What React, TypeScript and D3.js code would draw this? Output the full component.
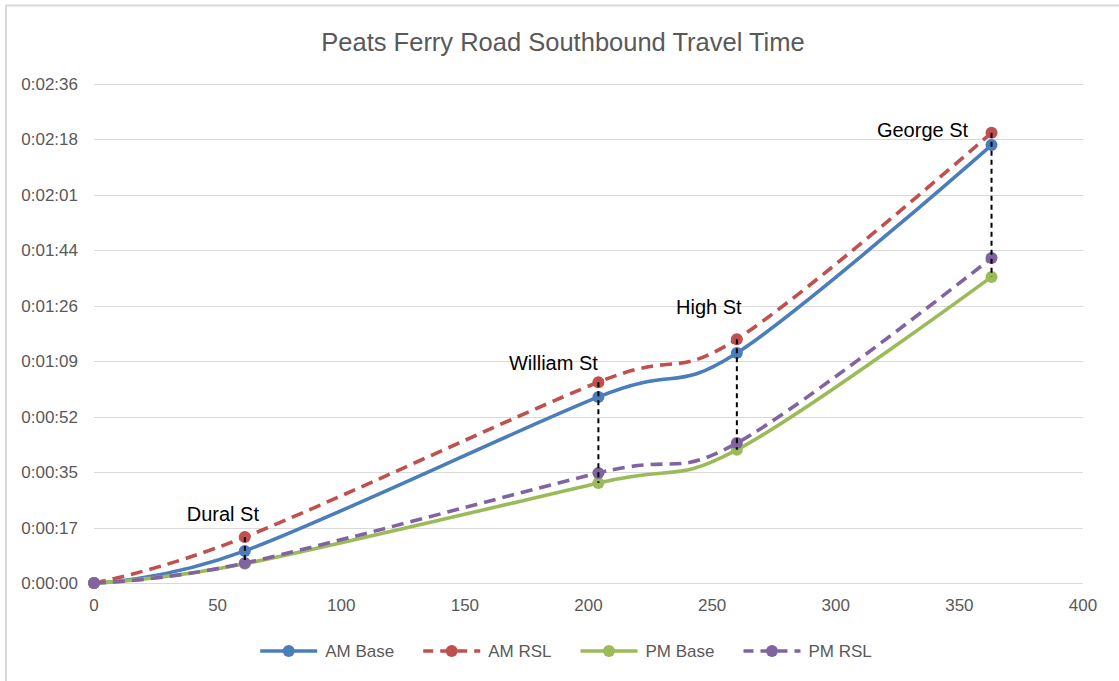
import React, { useEffect, useRef } from "react";
import * as d3 from "d3";

// ---- data ----
const distances = [0, 61, 204, 260, 363];
const amBase = [0, 10.0, 58.0, 71.7, 136.5];
const amRsl = [0, 14.3, 62.6, 76.0, 140.3];
const pmBase = [0, 6.0, 31.2, 41.5, 95.4];
const pmRsl = [0, 6.2, 34.3, 43.6, 101.3];
const streetLabels = ["", "Dural St", "William St", "High St", "George St"];
const xTicks = [0, 50, 100, 150, 200, 250, 300, 350, 400];
const yTickLabels = ["0:00:00", "0:00:17", "0:00:35", "0:00:52", "0:01:09", "0:01:26", "0:01:44", "0:02:01", "0:02:18", "0:02:36"];
const yStep = 17.28; // seconds (0.0002 day)
const seriesNames = ["AM Base", "AM RSL", "PM Base", "PM RSL"];

// ---- styles ----
const colors = ["#4a7ebb", "#c0504d", "#9bbb59", "#8064a2"];
const dashes = [null, "12,7", null, "12,7"];
const labelOffsets = [[0, 0], [-22, -23], [-45, -19], [-28, -32], [-69, -3]];
const FONT = "'Liberation Sans', Arial, sans-serif";

export default function App() {
  const ref = useRef<SVGSVGElement>(null);
  useEffect(() => {
    const svg = d3.select(ref.current);
    svg.selectAll("*").remove();
    const W = 1119, H = 681;
    const m = { left: 94, right: 1083, top: 84, bottom: 583 };
    const x = d3.scaleLinear().domain([0, 400]).range([m.left, m.right]);
    const y = d3.scaleLinear().domain([0, yStep * 9]).range([m.bottom, m.top]);

    svg.append("rect").attr("width", W).attr("height", H).attr("fill", "#fff");
    svg.append("rect").attr("x", 6).attr("y", 5.5).attr("width", 1300).attr("height", 900)
      .attr("fill", "none").attr("stroke", "#d9d9d9").attr("stroke-width", 2);

    // title
    svg.append("text").attr("x", 563).attr("y", 42).attr("dy", "0.35em")
      .attr("text-anchor", "middle").attr("font-family", FONT).attr("font-size", 25.5)
      .attr("fill", "#595959").text("Peats Ferry Road Southbound Travel Time");

    // gridlines + y labels
    const yVals = yTickLabels.map((_, i) => i * yStep);
    const g = svg.append("g");
    g.selectAll("line.grid").data(yVals).join("line")
      .attr("x1", m.left).attr("x2", m.right)
      .attr("y1", (d) => Math.round(y(d)) + 0.5).attr("y2", (d) => Math.round(y(d)) + 0.5)
      .attr("stroke", "#d9d9d9").attr("stroke-width", 1);
    g.selectAll("text.yl").data(yVals).join("text")
      .attr("x", 78).attr("y", (d) => y(d)).attr("dy", "0.35em").attr("text-anchor", "end")
      .attr("font-family", FONT).attr("font-size", 17).attr("fill", "#595959")
      .text((_, i) => yTickLabels[i]);
    g.selectAll("text.xl").data(xTicks).join("text")
      .attr("x", (d) => x(d)).attr("y", 605).attr("dy", "0.35em").attr("text-anchor", "middle")
      .attr("font-family", FONT).attr("font-size", 17).attr("fill", "#595959")
      .text((d) => String(d));

    const allSeries = [amBase, amRsl, pmBase, pmRsl];
    const line = d3.line<number>()
      .x((_, i) => x(distances[i]))
      .y((d) => y(d))
      .curve(d3.curveCardinal.tension(0));

    allSeries.forEach((s, k) => {
      const sg = svg.append("g");
      sg.append("path").attr("d", line(s)).attr("fill", "none")
        .attr("stroke", colors[k]).attr("stroke-width", 3.6)
        .attr("stroke-dasharray", dashes[k] as any);
      sg.selectAll("circle").data(s).join("circle")
        .attr("cx", (_, i) => x(distances[i])).attr("cy", (d) => y(d)).attr("r", 6)
        .attr("fill", colors[k]);
    });

    // connectors (AM RSL down to PM Base)
    svg.selectAll("line.conn").data(distances.slice(1)).join("line")
      .attr("x1", (d) => x(d)).attr("x2", (d) => x(d))
      .attr("y1", (_, i) => y(amRsl[i + 1])).attr("y2", (_, i) => y(pmBase[i + 1]))
      .attr("stroke", "#000").attr("stroke-width", 2).attr("stroke-dasharray", "5,4");

    // street labels
    svg.selectAll("text.st").data(streetLabels.slice(1)).join("text")
      .attr("x", (_, i) => x(distances[i + 1]) + labelOffsets[i + 1][0])
      .attr("y", (_, i) => y(amRsl[i + 1]) + labelOffsets[i + 1][1])
      .attr("dy", "0.35em").attr("text-anchor", "middle")
      .attr("font-family", FONT).attr("font-size", 20).attr("fill", "#000")
      .text((d) => d);

    // legend
    const lg = svg.append("g");
    const ly = 651;
    const symW = 57, gap1 = 8, gap2 = 29;
    const items = seriesNames.map((name, k) => {
      const gi = lg.append("g");
      gi.append("line").attr("x1", 0).attr("x2", symW).attr("y1", ly).attr("y2", ly)
        .attr("stroke", colors[k]).attr("stroke-width", 3.6)
        .attr("stroke-dasharray", dashes[k] ? "10,7" : null);
      gi.append("circle").attr("cx", symW / 2).attr("cy", ly).attr("r", 6).attr("fill", colors[k]);
      const t = gi.append("text").attr("x", symW + gap1).attr("y", ly).attr("dy", "0.35em")
        .attr("font-family", FONT).attr("font-size", 17).attr("fill", "#595959").text(name);
      const w = (t.node() as SVGTextElement).getComputedTextLength();
      return { gi, w: symW + gap1 + w };
    });
    const total = items.reduce((a, b) => a + b.w, 0) + gap2 * (items.length - 1);
    let cx = 566 - total / 2;
    items.forEach((it) => {
      it.gi.attr("transform", `translate(${cx},0)`);
      cx += it.w + gap2;
    });
  }, []);
  return (
    <svg ref={ref} width={1119} height={681}
      style={{ position: "absolute", left: 0, top: 0, display: "block" }} />
  );
}
